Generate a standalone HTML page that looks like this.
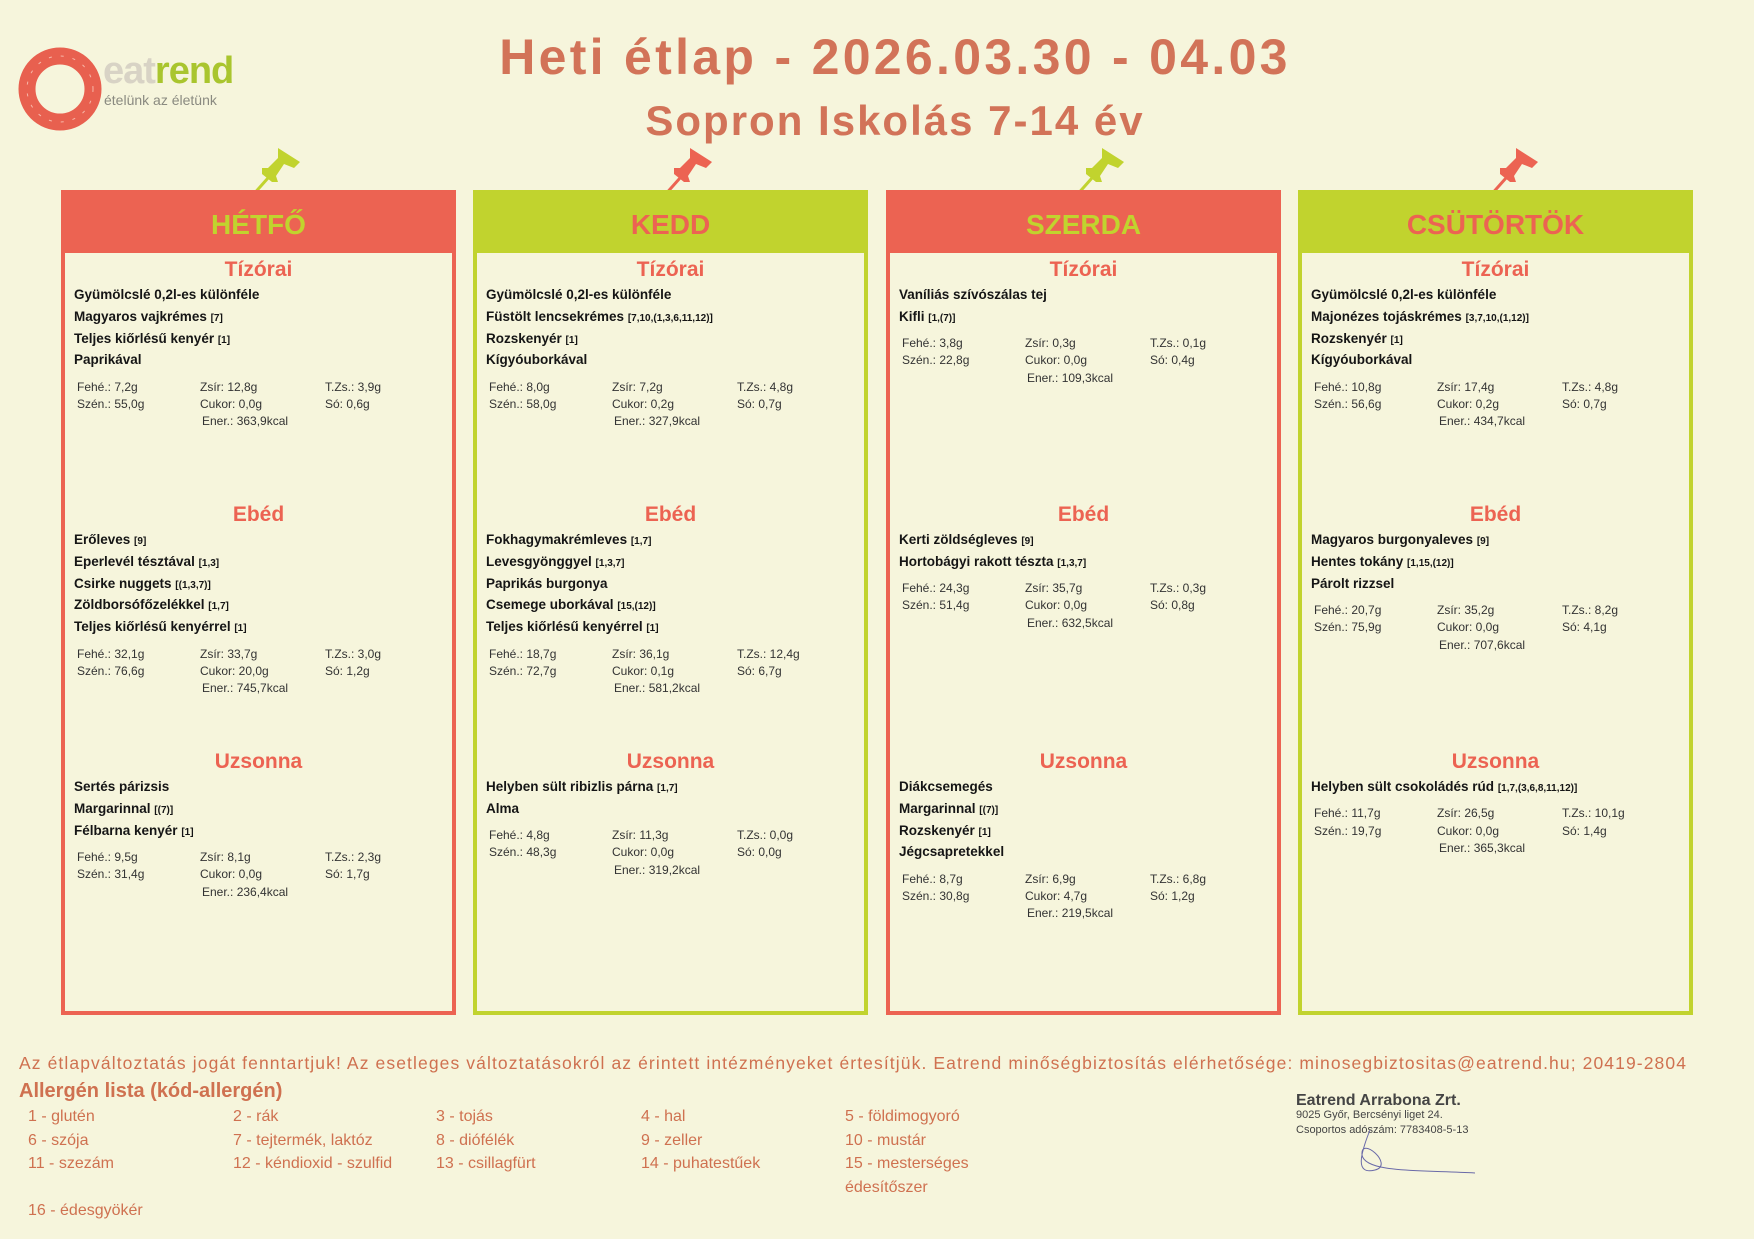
<!DOCTYPE html>
<html><head><meta charset="utf-8">
<style>
*{margin:0;padding:0;box-sizing:border-box}
body{width:1754px;height:1239px;background:#f6f5dc;font-family:"Liberation Sans","DejaVu Sans",sans-serif;position:relative;overflow:hidden;color:#151515}
.abs{position:absolute}
.title{left:0;width:1790px;text-align:center;color:#d27358;font-weight:bold}
.panel{position:absolute;top:190px;width:395px;height:825px;border:4px solid}
.red{border-color:#ec6352}.green{border-color:#c1d32e}
.hdr{position:absolute;left:0;top:0;right:0;height:59px;text-align:center;line-height:62px;font-size:28px;font-weight:bold}
.red .hdr{background:#ec6352;color:#c1d32e}
.green .hdr{background:#c1d32e;color:#ec6352}
.sec{position:absolute;left:0;right:0}
.st{height:26px;line-height:30px;text-align:center;color:#ec6352;font-size:21px;font-weight:bold}
.it{margin-top:2px;padding-left:9px}
.it div{height:21.8px;line-height:23px;font-size:13.5px;font-weight:bold;white-space:nowrap}
.it small{font-size:10px}
.nu{margin-top:7.6px;position:relative;height:52px;font-size:12px;color:#333}
.nu span{position:absolute;line-height:19px;white-space:nowrap}
.foot{color:#cf7150;white-space:nowrap}
.al{position:absolute;font-size:16px;color:#cf7150;line-height:23.5px}
</style></head><body>

<svg class="abs" style="left:14px;top:43px" width="92" height="92" viewBox="0 0 92 92">
<circle cx="46" cy="46" r="33" fill="none" stroke="#e8604f" stroke-width="17"/>
<circle cx="46" cy="46" r="33" fill="none" stroke="#f7b7a8" stroke-width="1" stroke-dasharray="3 9"/>
</svg>
<div class="abs" style="left:103px;top:50px;font-size:38px;font-weight:bold;letter-spacing:-1px"><span style="color:#d8d3c5">eat</span><span style="color:#a9c52e">rend</span></div>
<div class="abs" style="left:104px;top:92px;font-size:14px;color:#8a8a80">ételünk az életünk</div>

<div class="abs title" style="top:28px;font-size:50px;letter-spacing:3.3px">Heti étlap - 2026.03.30 - 04.03</div>
<div class="abs title" style="top:97px;font-size:42px;letter-spacing:2px">Sopron Iskolás 7-14 év</div>

<svg class="abs" style="left:248px;top:146px" width="56" height="52" viewBox="0 0 56 52"><g fill="#c1d32e"><polygon points="30,2 52,16 46,22 36,18 28,30 30,36 24,36 14,28 14,22 20,22 30,12"/><line x1="20" y1="32" x2="4" y2="50" stroke="#c1d32e" stroke-width="3"/></g></svg>
<svg class="abs" style="left:660px;top:146px" width="56" height="52" viewBox="0 0 56 52"><g fill="#ec6352"><polygon points="30,2 52,16 46,22 36,18 28,30 30,36 24,36 14,28 14,22 20,22 30,12"/><line x1="20" y1="32" x2="4" y2="50" stroke="#ec6352" stroke-width="3"/></g></svg>
<svg class="abs" style="left:1072px;top:146px" width="56" height="52" viewBox="0 0 56 52"><g fill="#c1d32e"><polygon points="30,2 52,16 46,22 36,18 28,30 30,36 24,36 14,28 14,22 20,22 30,12"/><line x1="20" y1="32" x2="4" y2="50" stroke="#c1d32e" stroke-width="3"/></g></svg>
<svg class="abs" style="left:1486px;top:146px" width="56" height="52" viewBox="0 0 56 52"><g fill="#ec6352"><polygon points="30,2 52,16 46,22 36,18 28,30 30,36 24,36 14,28 14,22 20,22 30,12"/><line x1="20" y1="32" x2="4" y2="50" stroke="#ec6352" stroke-width="3"/></g></svg>

<div class="panel red" style="left:61px">
<div class="hdr">HÉTFŐ</div>
<div class="sec" style="top:61px"><div class="st">Tízórai</div><div class="it">
<div>Gyümölcslé 0,2l-es különféle</div><div>Magyaros vajkrémes <small>[7]</small></div><div>Teljes kiőrlésű kenyér <small>[1]</small></div><div>Paprikával</div></div>
<div class="nu"><span style="left:12px;top:0">Fehé.: 7,2g</span><span style="left:135px;top:0">Zsír: 12,8g</span><span style="left:260px;top:0">T.Zs.: 3,9g</span><span style="left:12px;top:17.3px">Szén.: 55,0g</span><span style="left:135px;top:17.3px">Cukor: 0,0g</span><span style="left:260px;top:17.3px">Só: 0,6g</span><span style="left:137px;top:34.6px">Ener.: 363,9kcal</span></div></div>
<div class="sec" style="top:306px"><div class="st">Ebéd</div><div class="it">
<div>Erőleves <small>[9]</small></div><div>Eperlevél tésztával <small>[1,3]</small></div><div>Csirke nuggets <small>[(1,3,7)]</small></div><div>Zöldborsófőzelékkel <small>[1,7]</small></div><div>Teljes kiőrlésű kenyérrel <small>[1]</small></div></div>
<div class="nu"><span style="left:12px;top:0">Fehé.: 32,1g</span><span style="left:135px;top:0">Zsír: 33,7g</span><span style="left:260px;top:0">T.Zs.: 3,0g</span><span style="left:12px;top:17.3px">Szén.: 76,6g</span><span style="left:135px;top:17.3px">Cukor: 20,0g</span><span style="left:260px;top:17.3px">Só: 1,2g</span><span style="left:137px;top:34.6px">Ener.: 745,7kcal</span></div></div>
<div class="sec" style="top:553px"><div class="st">Uzsonna</div><div class="it">
<div>Sertés párizsis</div><div>Margarinnal <small>[(7)]</small></div><div>Félbarna kenyér <small>[1]</small></div></div>
<div class="nu"><span style="left:12px;top:0">Fehé.: 9,5g</span><span style="left:135px;top:0">Zsír: 8,1g</span><span style="left:260px;top:0">T.Zs.: 2,3g</span><span style="left:12px;top:17.3px">Szén.: 31,4g</span><span style="left:135px;top:17.3px">Cukor: 0,0g</span><span style="left:260px;top:17.3px">Só: 1,7g</span><span style="left:137px;top:34.6px">Ener.: 236,4kcal</span></div></div>
</div>

<div class="panel green" style="left:473px">
<div class="hdr">KEDD</div>
<div class="sec" style="top:61px"><div class="st">Tízórai</div><div class="it">
<div>Gyümölcslé 0,2l-es különféle</div><div>Füstölt lencsekrémes <small>[7,10,(1,3,6,11,12)]</small></div><div>Rozskenyér <small>[1]</small></div><div>Kígyóuborkával</div></div>
<div class="nu"><span style="left:12px;top:0">Fehé.: 8,0g</span><span style="left:135px;top:0">Zsír: 7,2g</span><span style="left:260px;top:0">T.Zs.: 4,8g</span><span style="left:12px;top:17.3px">Szén.: 58,0g</span><span style="left:135px;top:17.3px">Cukor: 0,2g</span><span style="left:260px;top:17.3px">Só: 0,7g</span><span style="left:137px;top:34.6px">Ener.: 327,9kcal</span></div></div>
<div class="sec" style="top:306px"><div class="st">Ebéd</div><div class="it">
<div>Fokhagymakrémleves <small>[1,7]</small></div><div>Levesgyönggyel <small>[1,3,7]</small></div><div>Paprikás burgonya</div><div>Csemege uborkával <small>[15,(12)]</small></div><div>Teljes kiőrlésű kenyérrel <small>[1]</small></div></div>
<div class="nu"><span style="left:12px;top:0">Fehé.: 18,7g</span><span style="left:135px;top:0">Zsír: 36,1g</span><span style="left:260px;top:0">T.Zs.: 12,4g</span><span style="left:12px;top:17.3px">Szén.: 72,7g</span><span style="left:135px;top:17.3px">Cukor: 0,1g</span><span style="left:260px;top:17.3px">Só: 6,7g</span><span style="left:137px;top:34.6px">Ener.: 581,2kcal</span></div></div>
<div class="sec" style="top:553px"><div class="st">Uzsonna</div><div class="it">
<div>Helyben sült ribizlis párna <small>[1,7]</small></div><div>Alma</div></div>
<div class="nu"><span style="left:12px;top:0">Fehé.: 4,8g</span><span style="left:135px;top:0">Zsír: 11,3g</span><span style="left:260px;top:0">T.Zs.: 0,0g</span><span style="left:12px;top:17.3px">Szén.: 48,3g</span><span style="left:135px;top:17.3px">Cukor: 0,0g</span><span style="left:260px;top:17.3px">Só: 0,0g</span><span style="left:137px;top:34.6px">Ener.: 319,2kcal</span></div></div>
</div>

<div class="panel red" style="left:886px">
<div class="hdr">SZERDA</div>
<div class="sec" style="top:61px"><div class="st">Tízórai</div><div class="it">
<div>Vaníliás szívószálas tej</div><div>Kifli <small>[1,(7)]</small></div></div>
<div class="nu"><span style="left:12px;top:0">Fehé.: 3,8g</span><span style="left:135px;top:0">Zsír: 0,3g</span><span style="left:260px;top:0">T.Zs.: 0,1g</span><span style="left:12px;top:17.3px">Szén.: 22,8g</span><span style="left:135px;top:17.3px">Cukor: 0,0g</span><span style="left:260px;top:17.3px">Só: 0,4g</span><span style="left:137px;top:34.6px">Ener.: 109,3kcal</span></div></div>
<div class="sec" style="top:306px"><div class="st">Ebéd</div><div class="it">
<div>Kerti zöldségleves <small>[9]</small></div><div>Hortobágyi rakott tészta <small>[1,3,7]</small></div></div>
<div class="nu"><span style="left:12px;top:0">Fehé.: 24,3g</span><span style="left:135px;top:0">Zsír: 35,7g</span><span style="left:260px;top:0">T.Zs.: 0,3g</span><span style="left:12px;top:17.3px">Szén.: 51,4g</span><span style="left:135px;top:17.3px">Cukor: 0,0g</span><span style="left:260px;top:17.3px">Só: 0,8g</span><span style="left:137px;top:34.6px">Ener.: 632,5kcal</span></div></div>
<div class="sec" style="top:553px"><div class="st">Uzsonna</div><div class="it">
<div>Diákcsemegés</div><div>Margarinnal <small>[(7)]</small></div><div>Rozskenyér <small>[1]</small></div><div>Jégcsapretekkel</div></div>
<div class="nu"><span style="left:12px;top:0">Fehé.: 8,7g</span><span style="left:135px;top:0">Zsír: 6,9g</span><span style="left:260px;top:0">T.Zs.: 6,8g</span><span style="left:12px;top:17.3px">Szén.: 30,8g</span><span style="left:135px;top:17.3px">Cukor: 4,7g</span><span style="left:260px;top:17.3px">Só: 1,2g</span><span style="left:137px;top:34.6px">Ener.: 219,5kcal</span></div></div>
</div>

<div class="panel green" style="left:1298px">
<div class="hdr">CSÜTÖRTÖK</div>
<div class="sec" style="top:61px"><div class="st">Tízórai</div><div class="it">
<div>Gyümölcslé 0,2l-es különféle</div><div>Majonézes tojáskrémes <small>[3,7,10,(1,12)]</small></div><div>Rozskenyér <small>[1]</small></div><div>Kígyóuborkával</div></div>
<div class="nu"><span style="left:12px;top:0">Fehé.: 10,8g</span><span style="left:135px;top:0">Zsír: 17,4g</span><span style="left:260px;top:0">T.Zs.: 4,8g</span><span style="left:12px;top:17.3px">Szén.: 56,6g</span><span style="left:135px;top:17.3px">Cukor: 0,2g</span><span style="left:260px;top:17.3px">Só: 0,7g</span><span style="left:137px;top:34.6px">Ener.: 434,7kcal</span></div></div>
<div class="sec" style="top:306px"><div class="st">Ebéd</div><div class="it">
<div>Magyaros burgonyaleves <small>[9]</small></div><div>Hentes tokány <small>[1,15,(12)]</small></div><div>Párolt rizzsel</div></div>
<div class="nu"><span style="left:12px;top:0">Fehé.: 20,7g</span><span style="left:135px;top:0">Zsír: 35,2g</span><span style="left:260px;top:0">T.Zs.: 8,2g</span><span style="left:12px;top:17.3px">Szén.: 75,9g</span><span style="left:135px;top:17.3px">Cukor: 0,0g</span><span style="left:260px;top:17.3px">Só: 4,1g</span><span style="left:137px;top:34.6px">Ener.: 707,6kcal</span></div></div>
<div class="sec" style="top:553px"><div class="st">Uzsonna</div><div class="it">
<div>Helyben sült csokoládés rúd <small>[1,7,(3,6,8,11,12)]</small></div></div>
<div class="nu"><span style="left:12px;top:0">Fehé.: 11,7g</span><span style="left:135px;top:0">Zsír: 26,5g</span><span style="left:260px;top:0">T.Zs.: 10,1g</span><span style="left:12px;top:17.3px">Szén.: 19,7g</span><span style="left:135px;top:17.3px">Cukor: 0,0g</span><span style="left:260px;top:17.3px">Só: 1,4g</span><span style="left:137px;top:34.6px">Ener.: 365,3kcal</span></div></div>
</div>

<div class="abs foot" style="left:19px;top:1053px;font-size:17.5px;letter-spacing:1.1px">Az étlapváltoztatás jogát fenntartjuk! Az esetleges változtatásokról az érintett intézményeket értesítjük. Eatrend minőségbiztosítás elérhetősége: minosegbiztositas@eatrend.hu; 20419-2804</div>
<div class="abs foot" style="left:19px;top:1080px;font-size:20px;font-weight:bold">Allergén lista (kód-allergén)</div>
<div class="al" style="left:28px;top:1105px">1 - glutén<br>6 - szója<br>11 - szezám<br><br>16 - édesgyökér</div>
<div class="al" style="left:233px;top:1105px">2 - rák<br>7 - tejtermék, laktóz<br>12 - kéndioxid - szulfid</div>
<div class="al" style="left:436px;top:1105px">3 - tojás<br>8 - diófélék<br>13 - csillagfürt</div>
<div class="al" style="left:641px;top:1105px">4 - hal<br>9 - zeller<br>14 - puhatestűek</div>
<div class="al" style="left:845px;top:1105px">5 - földimogyoró<br>10 - mustár<br>15 - mesterséges<br>édesítőszer</div>

<div class="abs" style="left:1296px;top:1093px;color:#444;line-height:15px">
<div style="font-size:16px;font-weight:bold">Eatrend Arrabona Zrt.</div>
<div style="font-size:11px">9025 Győr, Bercsényi liget 24.</div>
<div style="font-size:11px">Csoportos adószám: 7783408-5-13</div></div>
<svg class="abs" style="left:1340px;top:1125px" width="140" height="55"><path d="M30 5 C 20 30, 15 50, 35 45 C 55 40, 20 10, 22 30 C 25 48, 80 45, 135 48" fill="none" stroke="#6a6aa8" stroke-width="1"/></svg>
</body></html>
